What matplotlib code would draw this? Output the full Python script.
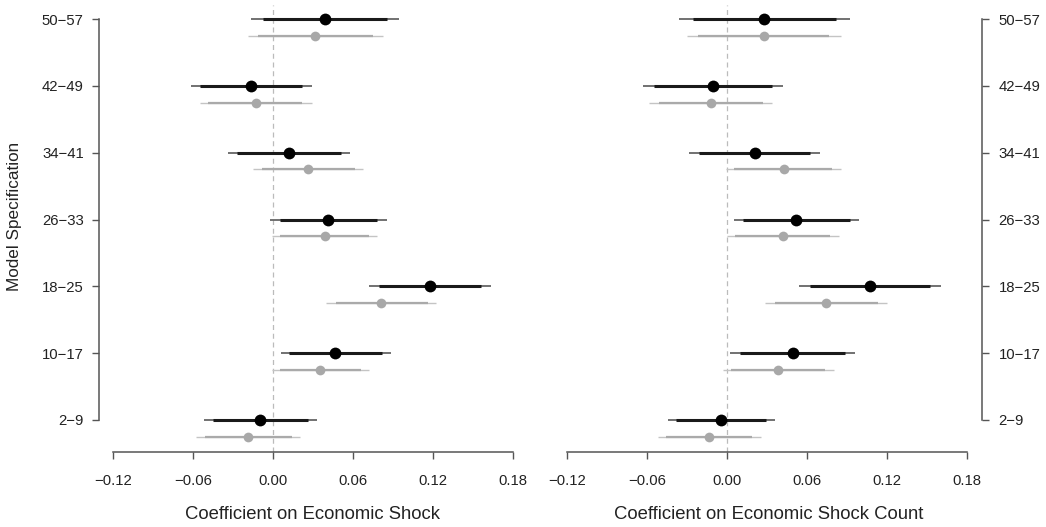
import numpy as np
import matplotlib
matplotlib.use("Agg")
import matplotlib.pyplot as plt

plt.rcParams['font.family'] = ['Liberation Sans', 'DejaVu Sans']

# model specifications, bottom to top
specs = ["2\u22129", "10\u221217", "18\u221225", "26\u221233", "34\u221241", "42\u221249", "50\u221257"]

# left panel: economic shock
shock_est = [-0.0093, 0.047, 0.1183, 0.0415, 0.012, -0.0165, 0.0395]
shock_lo90 = [-0.0448, 0.0123, 0.0797, 0.0053, -0.0268, -0.0548, -0.0073]
shock_hi90 = [0.026, 0.082, 0.1565, 0.0785, 0.0508, 0.022, 0.0858]
shock_lo95 = [-0.0518, 0.0058, 0.0722, -0.0018, -0.034, -0.0618, -0.0165]
shock_hi95 = [0.0328, 0.0885, 0.164, 0.0853, 0.058, 0.029, 0.0948]

shock_est_g = [-0.0185, 0.0353, 0.0815, 0.039, 0.0265, -0.0128, 0.032]
shock_lo90_g = [-0.051, 0.005, 0.0473, 0.005, -0.008, -0.0485, -0.011]
shock_hi90_g = [0.0145, 0.0665, 0.1165, 0.0722, 0.0615, 0.022, 0.0752]
shock_lo95_g = [-0.0578, -0.001, 0.0398, -0.001, -0.0152, -0.0548, -0.019]
shock_hi95_g = [0.0203, 0.0722, 0.1228, 0.0785, 0.068, 0.029, 0.0828]

# right panel: economic shock count
count_est = [-0.0048, 0.049, 0.1068, 0.0518, 0.021, -0.0108, 0.028]
count_lo90 = [-0.0383, 0.0093, 0.0623, 0.0122, -0.0208, -0.0548, -0.0258]
count_hi90 = [0.0293, 0.0885, 0.1518, 0.0918, 0.0623, 0.0335, 0.0818]
count_lo95 = [-0.0445, 0.0018, 0.0538, 0.0048, -0.0283, -0.0633, -0.0358]
count_hi95 = [0.0355, 0.0955, 0.16, 0.099, 0.0698, 0.0418, 0.0918]

count_est_g = [-0.0135, 0.038, 0.074, 0.0415, 0.0423, -0.0123, 0.0273]
count_lo90_g = [-0.046, 0.003, 0.036, 0.006, 0.0055, -0.0508, -0.0215]
count_hi90_g = [0.019, 0.0735, 0.1128, 0.0768, 0.0785, 0.0268, 0.076]
count_lo95_g = [-0.052, -0.0033, 0.0285, -0.0003, -0.001, -0.0583, -0.0303]
count_hi95_g = [0.0253, 0.0798, 0.1198, 0.0835, 0.0853, 0.0335, 0.0853]

xticks = [-0.12, -0.06, 0.0, 0.06, 0.12, 0.18]

W, H = 1046, 527
fig = plt.figure(figsize=(W / 100, H / 100), dpi=100)

y = np.arange(1, len(specs) + 1)
off = 0.25


def draw(ax, est, lo90, hi90, lo95, hi95, est_g, lo90_g, hi90_g, lo95_g, hi95_g):
    ax.axvline(0, color="#bbbbbb", lw=0.9, ls=(0, (4, 3)), zorder=0)
    yg = y - off
    # gray series
    ax.hlines(yg, lo95_g, hi95_g, color="#c4c4c4", lw=1.0)
    ax.hlines(yg, lo90_g, hi90_g, color="#aaaaaa", lw=1.6)
    ax.plot(est_g, yg, "o", color="#a8a8a8", ms=7, mec="none")
    # black series
    ax.hlines(y, lo95, hi95, color="#666666", lw=1.3)
    ax.hlines(y, lo90, hi90, color="#1a1a1a", lw=2.2)
    ax.plot(est, y, "o", color="black", ms=8.5, mec="none")

    ax.set_ylim(0.521, 7.21)
    ax.set_xticks(xticks)
    ax.set_xticklabels([f"{t:.2f}".replace("-", "\u2212") for t in xticks])
    ax.spines["top"].set_visible(False)
    ax.spines["bottom"].set_bounds(-0.12, 0.18)
    for s in ax.spines.values():
        s.set_color("#555555")
        s.set_linewidth(1.1)
    ax.tick_params(axis="x", length=5, width=1, color="#555555", pad=11,
                   labelsize=10.7, labelcolor="#222222")
    ax.tick_params(axis="y", length=5, width=1, color="#555555", pad=6,
                   labelsize=10.7, labelcolor="#222222")


ax1 = fig.add_axes([99 / W, (H - 452) / H, 427 / W, 447 / H])
draw(ax1, shock_est, shock_lo90, shock_hi90, shock_lo95, shock_hi95,
     shock_est_g, shock_lo90_g, shock_hi90_g, shock_lo95_g, shock_hi95_g)
ax1.set_xlim(-0.1305, 0.19)
ax1.spines["right"].set_visible(False)
ax1.spines["left"].set_bounds(1, 7)
ax1.set_yticks(y)
ax1.set_yticklabels(specs)
ax1.set_xlabel("Coefficient on Economic Shock", fontsize=13.3, labelpad=13, color="#222222")

ax2 = fig.add_axes([555 / W, (H - 452) / H, 427 / W, 447 / H])
draw(ax2, count_est, count_lo90, count_hi90, count_lo95, count_hi95,
     count_est_g, count_lo90_g, count_hi90_g, count_lo95_g, count_hi95_g)
ax2.set_xlim(-0.129, 0.191)
ax2.spines["left"].set_visible(False)
ax2.spines["right"].set_bounds(1, 7)
ax2.yaxis.tick_right()
ax2.set_yticks(y)
ax2.set_yticklabels(specs)
ax2.tick_params(axis="y", pad=7)
ax2.set_xlabel("Coefficient on Economic Shock Count", fontsize=13.3, labelpad=13, color="#222222")

fig.text(14.5 / W, 1 - 216 / H, "Model Specification", rotation=90, va="center",
         ha="center", fontsize=12.3, color="#222222")

fig.savefig("out.png", dpi=100)
